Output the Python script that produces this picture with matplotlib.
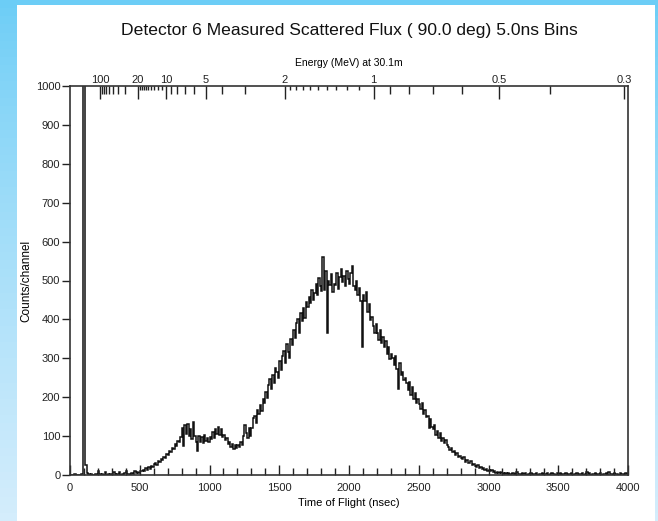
import numpy as np
import matplotlib
matplotlib.use("Agg")
import matplotlib.pyplot as plt
from matplotlib.patches import Rectangle

plt.rcParams['font.family'] = ['Liberation Sans', 'DejaVu Sans']

# ---- data: counts per channel, 10 ns bins from 0 to 4000 ns ----
bin_width = 10
counts = [
    0, 1, 0, 2, 1, 0, 1, 0, 2, 20000,
    20000, 25, 4, 2, 0, 3, 1, 0, 2, 1,
    9, 2, 0, 3, 1, 8, 1, 2, 0, 3,
    1, 7, 2, 0, 3, 8, 1, 2, 0, 4,
    9, 2, 3, 1, 6, 3, 10, 4, 8, 6,
    11, 9, 14, 10, 17, 13, 20, 16, 24, 21,
    27, 32, 25, 36, 33, 41, 38, 47, 44, 55,
    52, 61, 58, 70, 66, 79, 74, 88, 85, 97,
    122, 75, 128, 106, 132, 100, 118, 92, 136, 100,
    86, 62, 100, 84, 98, 82, 102, 88, 96, 84,
    98, 92, 110, 96, 118, 106, 124, 104, 118, 98,
    104, 90, 96, 80, 86, 72, 80, 68, 76, 70,
    78, 72, 84, 76, 100, 128, 108, 96, 122, 100,
    120, 146, 152, 134, 166, 158, 180, 164, 196, 186,
    214, 198, 232, 246, 222, 258, 236, 276, 264, 250,
    292, 270, 306, 318, 288, 338, 316, 302, 350, 334,
    372, 352, 390, 400, 366, 416, 396, 430, 404, 446,
    432, 458, 442, 476, 450, 468, 492, 462, 506, 486,
    474, 560, 476, 524, 365, 500, 488, 516, 470, 492,
    488, 520, 478, 508, 530, 496, 512, 486, 524, 504,
    490, 518, 538, 486, 476, 498, 462, 480, 448, 330,
    464, 448, 470, 420, 440, 398, 406, 384, 364, 388,
    366, 348, 372, 340, 354, 330, 344, 312, 330, 298,
    312, 300, 282, 306, 272, 220, 288, 258, 266, 244,
    250, 236, 218, 240, 206, 226, 196, 210, 184, 196,
    182, 170, 186, 158, 166, 150, 152, 120, 144, 124,
    118, 128, 104, 114, 96, 108, 88, 96, 82, 90,
    78, 72, 64, 70, 58, 62, 52, 56, 46, 50,
    44, 40, 46, 34, 38, 32, 30, 35, 26, 28,
    24, 21, 25, 18, 20, 15, 19, 13, 16, 11,
    13, 9, 12, 7, 10, 6, 8, 5, 7, 4,
    5, 3, 6, 2, 4, 3, 2, 5, 1, 3,
    8, 2, 3, 1, 4, 2, 5, 1, 3, 2,
    6, 1, 3, 2, 4, 1, 3, 2, 5, 1,
    3, 2, 4, 1, 3, 6, 2, 3, 1, 4,
    2, 5, 1, 3, 2, 4, 1, 3, 2, 6,
    1, 3, 2, 4, 1, 3, 2, 5, 1, 3,
    7, 2, 4, 1, 3, 2, 5, 1, 3, 2,
    6, 1, 3, 2, 4, 1, 7, 2, 3, 1,
    4, 2, 3, 1, 5, 2, 3, 1, 4, 2,
]

# top axis: neutron energy (MeV) at flight path
flight_path_m = 30.1
energy_major = [100, 20, 10, 5, 2, 1, 0.5, 0.3]
energy_major_labels = ["100", "20", "10", "5", "2", "1", "0.5", "0.3"]
energy_minor = [90, 80, 70, 60, 50, 40, 30, 9, 8, 7, 6, 4, 3, 0.9, 0.8, 0.7, 0.6, 0.4]
energy_short = [19, 18, 17, 16, 15, 14, 13, 12, 11,
                1.9, 1.8, 1.7, 1.6, 1.5, 1.4, 1.3, 1.2, 1.1]

x_ticks = [0, 500, 1000, 1500, 2000, 2500, 3000, 3500, 4000]
y_ticks = [0, 100, 200, 300, 400, 500, 600, 700, 800, 900, 1000]


def tof_ns(e_mev):
    return 72.3 * flight_path_m / np.sqrt(np.asarray(e_mev, dtype=float))


W, H = 658, 521
fig = plt.figure(figsize=(W / 100, H / 100), dpi=100)

# background: blue gradient frame with white panel
bg = fig.add_axes([0, 0, 1, 1], zorder=-10)
bg.set_axis_off()
ny, nx = 64, 64
yy, xx = np.mgrid[0:1:ny * 1j, 0:1:nx * 1j]
top_c = np.array([0x6c, 0xcd, 0xf6]) / 255
bot_c = np.array([0xd4, 0xed, 0xfc]) / 255
t = (yy ** 0.8)[..., None]
img = top_c * (1 - t) + bot_c * t
bg.imshow(img, extent=[0, 1, 0, 1], aspect='auto', origin='upper')
bg.add_patch(Rectangle((17 / W, 0), (655 - 17) / W, (H - 5) / H,
                       transform=bg.transAxes, facecolor='white', edgecolor='none'))
bg.set_xlim(0, 1)
bg.set_ylim(0, 1)

ax = fig.add_axes([70 / W, 46 / H, 558 / W, 389 / H])
edges = np.arange(0, bin_width * len(counts) + 1, bin_width)
ax.stairs(counts, edges, color='#111111', linewidth=1.1, baseline=None)

ax.set_xlim(0, 4000)
ax.set_ylim(0, 1000)
ax.set_xticks(x_ticks)
ax.set_xticks(np.arange(0, 4001, 100), minor=True)
ax.set_yticks(y_ticks)
ax.tick_params(axis='x', which='major', direction='in', length=7, width=1,
               labelsize=8, pad=6, colors='#222222')
ax.tick_params(axis='x', which='minor', direction='in', length=5, width=1,
               colors='#222222')
ax.tick_params(axis='y', which='major', direction='out', length=6, width=1,
               labelsize=8, pad=1, colors='#222222')
ax.tick_params(axis='y', which='minor', left=False)
for s in ax.spines.values():
    s.set_linewidth(1.2)
    s.set_color('#333333')

ax.set_xlabel("Time of Flight (nsec)", fontsize=8, labelpad=3)
ax.set_ylabel("Counts/channel", fontsize=8.5, labelpad=2)

# top energy axis
ax2 = ax.twiny()
ax2.set_xlim(ax.get_xlim())
ax2.set_xticks(tof_ns(energy_major))
ax2.set_xticklabels(energy_major_labels)
ax2.set_xticks(tof_ns(energy_minor), minor=True)
ax2.tick_params(axis='x', which='major', direction='in', length=9, width=1,
                labelsize=8, pad=1, colors='#222222')
ax2.tick_params(axis='x', which='minor', direction='in', length=6, width=1,
                colors='#222222')
ax2.spines[:].set_visible(False)
ax2.set_xlabel("Energy (MeV) at 30.1m", fontsize=7.5, labelpad=6)

ax3 = ax.twiny()
ax3.set_xlim(ax.get_xlim())
ax3.set_xticks([])
ax3.set_xticks(tof_ns(energy_short), minor=True)
ax3.tick_params(axis='x', which='minor', direction='in', length=3, width=1,
                colors='#222222')
ax3.spines[:].set_visible(False)

fig.text(349 / W, 1 - 31 / H, "Detector 6 Measured Scattered Flux ( 90.0 deg) 5.0ns Bins",
         ha='center', va='center', fontsize=12.6, color='#111111')

fig.savefig("out.png", dpi=100)
